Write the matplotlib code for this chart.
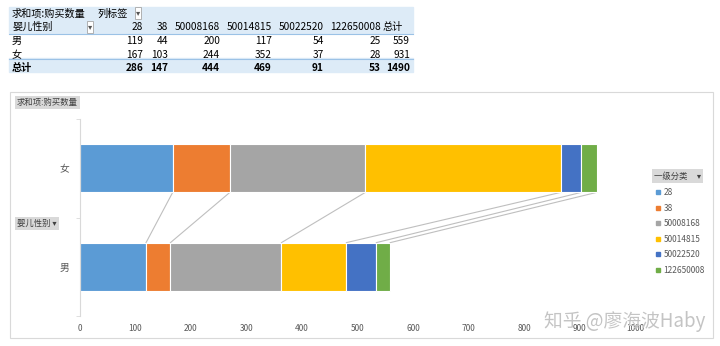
import matplotlib
matplotlib.use("Agg")
import matplotlib.pyplot as plt
import matplotlib.patches as mpatches
from matplotlib.lines import Line2D
import numpy as np

plt.rcParams['font.family'] = ['Noto Sans CJK SC', 'DejaVu Sans']

genders = ['男', '女']
categories = ['28', '38', '50008168', '50014815', '50022520', '122650008']
male = [119, 44, 200, 117, 54, 25]
female = [167, 103, 244, 352, 37, 28]
colors = ['#5B9BD5', '#ED7D31', '#A5A5A5', '#FFC000', '#4472C4', '#70AD47']
xticks = [0, 100, 200, 300, 400, 500, 600, 700, 800, 900, 1000]

W, H = 720, 346
fig = plt.figure(figsize=(W / 100, H / 100), dpi=100)


def fx(x):
    return x / W


def fy(y):
    return 1 - y / H


# ---- pivot table ----
fig.patches.append(mpatches.Rectangle((fx(9), fy(33)), fx(404), 26 / H,
                                      transform=fig.transFigure, color='#DDEBF7', zorder=0))
fig.patches.append(mpatches.Rectangle((fx(9), fy(72)), fx(404), 14 / H,
                                      transform=fig.transFigure, color='#DDEBF7', zorder=0))
for yy in [33.5, 58.5]:
    fig.lines.append(Line2D([fx(9), fx(413)], [fy(yy), fy(yy)], transform=fig.transFigure,
                            color='#9BC2E6', lw=0.8))

tfs = 7.3
fig.text(fx(12), fy(14), '求和项:购买数量', fontsize=tfs, va='center', ha='left')
fig.text(fx(97), fy(14), '列标签', fontsize=tfs, va='center', ha='left')
fig.text(fx(12), fy(27), '婴儿性别', fontsize=tfs, va='center', ha='left')
for bx, by in [(138, 13), (90, 27)]:
    fig.text(fx(bx), fy(by), '▾', fontsize=6, va='center', ha='center', color='#555555',
             bbox=dict(boxstyle='square,pad=0.15', fc='white', ec='#a6a6a6', lw=0.6))

col_right = [143, 168, 220, 272, 324, 381]
totals = [m + f for m, f in zip(male, female)]
for i, cat in enumerate(categories):
    fig.text(fx(col_right[i]), fy(27), cat, fontsize=tfs, va='center', ha='right')
    fig.text(fx(col_right[i]), fy(41), str(male[i]), fontsize=tfs, va='center', ha='right')
    fig.text(fx(col_right[i]), fy(55), str(female[i]), fontsize=tfs, va='center', ha='right')
    fig.text(fx(col_right[i]), fy(68), str(totals[i]), fontsize=tfs, va='center', ha='right',
             fontweight='bold')
fig.text(fx(383), fy(27), '总计', fontsize=tfs, va='center', ha='left')
fig.text(fx(410), fy(41), str(sum(male)), fontsize=tfs, va='center', ha='right')
fig.text(fx(410), fy(55), str(sum(female)), fontsize=tfs, va='center', ha='right')
fig.text(fx(410), fy(68), str(sum(totals)), fontsize=tfs, va='center', ha='right', fontweight='bold')
fig.text(fx(12), fy(41), '男', fontsize=tfs, va='center', ha='left')
fig.text(fx(12), fy(55), '女', fontsize=tfs, va='center', ha='left')
fig.text(fx(12), fy(68), '总计', fontsize=tfs, va='center', ha='left', fontweight='bold')

# ---- chart frame ----
fig.patches.append(mpatches.Rectangle((fx(10), fy(338)), fx(703), 246 / H,
                                      transform=fig.transFigure, fill=False, ec='#d9d9d9', lw=0.8))

ax = fig.add_axes([fx(80), fy(316), fx(555), 197 / H])
ypos = np.arange(len(genders))
data = [male, female]
left = np.zeros(len(genders))
for j, cat in enumerate(categories):
    vals = np.array([d[j] for d in data])
    ax.barh(ypos, vals, left=left, height=0.49, color=colors[j], edgecolor='white', lw=0.8,
            label=cat, zorder=2)
    left = left + vals

# series lines between the two bars
cm = np.cumsum(male)
cf = np.cumsum(female)
for a, b in zip(cf, cm):
    ax.plot([a, b], [1 - 0.245, 0 + 0.245], color='#bfbfbf', lw=0.8, zorder=1)

ax.set_xlim(0, 1000)
ax.set_ylim(-0.5, 1.5)
ax.set_xticks(xticks)
ax.set_xticklabels([str(t) for t in xticks], fontsize=6, color='#595959')
ax.set_yticks(ypos)
ax.set_yticklabels(genders, fontsize=7, color='#595959')
ax.set_yticks([-0.5, 0.5, 1.5], minor=True)
ax.tick_params(axis='x', length=0, pad=6)
ax.tick_params(axis='y', which='major', length=0, pad=8)
ax.tick_params(axis='y', which='minor', length=3, color='#d9d9d9')
for s in ['top', 'right', 'bottom']:
    ax.spines[s].set_visible(False)
ax.spines['left'].set_color('#d9d9d9')

# legend
handles = [Line2D([], [], marker='s', ls='', markersize=3, color=c) for c in colors]
fig.legend(handles, categories, loc='upper left', bbox_to_anchor=(fx(650), fy(184)),
           frameon=False, fontsize=6, labelspacing=0.78, handletextpad=0.1,
           handlelength=1.0, borderpad=0, labelcolor='#595959')

# field buttons
btn = dict(boxstyle='square,pad=0.25', fc='#d9d9d9', ec='none')
fig.text(fx(17), fy(102.5), '求和项:购买数量', fontsize=6, va='center', ha='left', color='#404040', bbox=btn)
fig.text(fx(17), fy(223.5), '婴儿性别 ▾', fontsize=6, va='center', ha='left', color='#404040', bbox=btn)
fig.text(fx(654), fy(176), '一级分类     ▾', fontsize=6, va='center', ha='left', color='#404040', bbox=btn)

# watermark
fig.text(fx(705), fy(321), '知乎 @廖海波Haby', fontsize=13.5, va='center', ha='right', color='#c4c4c4')

fig.savefig('out.png', dpi=100)
